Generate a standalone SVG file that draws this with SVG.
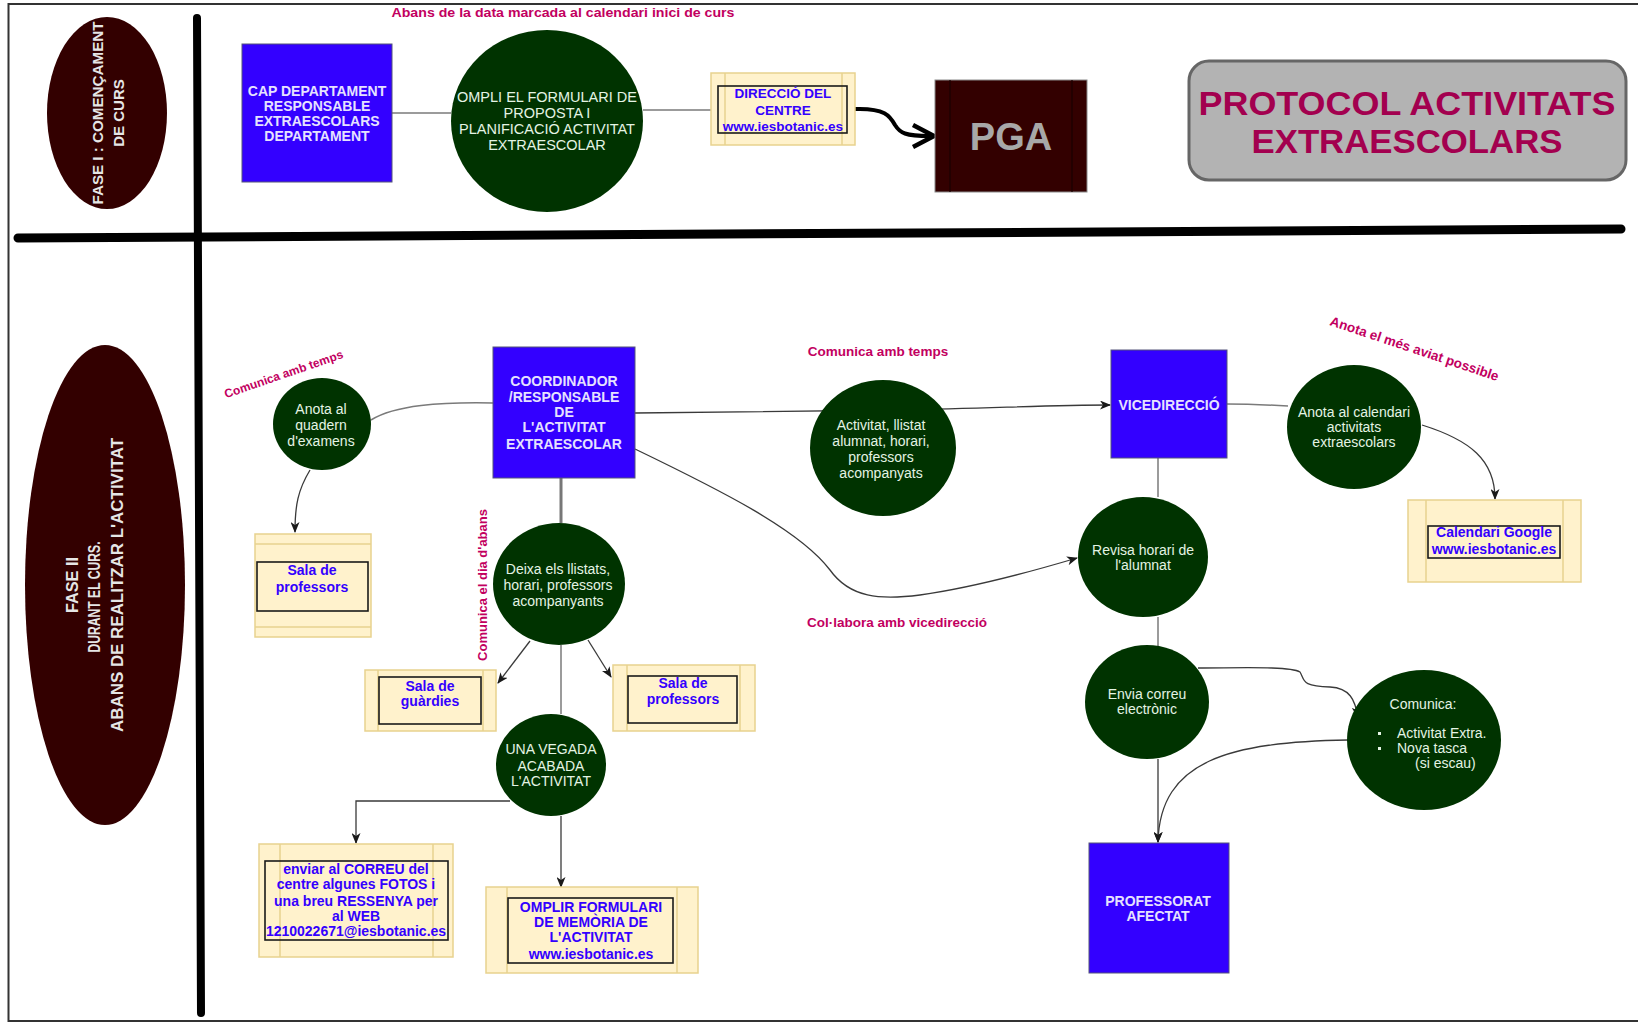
<svg xmlns="http://www.w3.org/2000/svg" width="1638" height="1023" viewBox="0 0 1638 1023">
<defs>
<style>
.t{font-family:"Liberation Sans",Arial,sans-serif}
.blue{fill:#3300ff;stroke:#55557a;stroke-width:1}
.green{fill:#003300}
.dark{fill:#330000}
.yel{fill:#fff2cc;stroke:#e8d28e;stroke-width:1.5}
.bar{stroke:#e8d28e;stroke-width:1.5;fill:none}
.inner{fill:none;stroke:#1a1a1a;stroke-width:1.6}
.conn{fill:none;stroke:#7a7a7a;stroke-width:1.5}
.arr{fill:none;stroke:#3a3a3a;stroke-width:1.3;marker-end:url(#ah)}
.tb{font-family:"Liberation Sans",Arial,sans-serif;font-weight:bold;font-size:14px;fill:#e6e2ff;text-anchor:middle}
.tg{font-family:"Liberation Sans",Arial,sans-serif;font-size:14px;fill:#e4f4e4;text-anchor:middle}
.ty{font-family:"Liberation Sans",Arial,sans-serif;font-weight:bold;font-size:14px;fill:#3300ff;text-anchor:middle}
.lbl{font-family:"Liberation Sans",Arial,sans-serif;font-weight:bold;font-size:13px;fill:#c2005f;text-anchor:middle}
.ph{font-family:"Liberation Sans",Arial,sans-serif;font-weight:bold;font-size:16px;fill:#e6e6e6;text-anchor:middle}
</style>
<marker id="ah" markerUnits="userSpaceOnUse" markerWidth="11" markerHeight="9" viewBox="0 0 11 9" refX="10" refY="4.5" orient="auto">
<path d="M0,0 L11,4.5 L0,9 L3,4.5 z" fill="#1a1a1a"/>
</marker>
</defs>
<rect width="1638" height="1023" fill="#ffffff"/>
<g id="frame">
<path d="M1638,4 H8.5 V1021 H1638" fill="none" stroke="#333" stroke-width="2"/>
<line x1="197" y1="18" x2="201" y2="1013" stroke="#000" stroke-width="8" stroke-linecap="round"/>
<line x1="18" y1="238" x2="1621" y2="229" stroke="#000" stroke-width="9" stroke-linecap="round"/>
</g>
<g id="connectors">
<path class="conn" d="M392,113 H451"/>
<path class="conn" d="M643,110 H711"/>
<path d="M855,109 C885,108 890,116 895,125 C900,133 905,136 930,136" fill="none" stroke="#000" stroke-width="4"/>
<path d="M913,125 L934,136 L913,147" fill="none" stroke="#000" stroke-width="4.5"/>
<path class="conn" d="M493,403 C440,402 395,405 371,420"/>
<path class="arr" d="M310,470 C298,490 295,505 295,532"/>
<path d="M561,478 V523" fill="none" stroke="#777" stroke-width="3"/>
<path class="arr" d="M530,641 L498,683"/>
<path class="arr" d="M588,640 L611,677"/>
<path class="conn" d="M561,645 V714"/>
<path class="arr" d="M510,801 H356 V843"/>
<path class="arr" d="M561,816 V887"/>
<path class="arr" d="M635,413 L900,410 C1000,408 1050,405 1110,405"/>
<path class="arr" d="M635,449 C720,490 800,530 830,570 C850,598 880,600 920,595 C970,588 1030,572 1077,558"/>
<path class="conn" d="M1158,458 V497"/>
<path class="conn" d="M1158,617 V646"/>
<path class="arr" d="M1158,759 V842"/>
<path class="arr" d="M1198,668 C1240,668 1290,666 1300,672 C1305,680 1300,686 1330,687 C1350,688 1355,700 1358,717"/>
<path class="arr" d="M1348,740 C1230,742 1160,760 1158,842"/>
<path class="conn" d="M1227,404 C1250,404 1270,405 1288,406"/>
<path class="arr" d="M1422,425 C1470,440 1495,460 1495,499"/>
</g>
<g id="fase1">
<ellipse class="dark" cx="107" cy="113" rx="60" ry="96"/>
<text class="ph" style="font-size:15px" transform="translate(103,113) rotate(-90)" textLength="183" lengthAdjust="spacingAndGlyphs">FASE I : COMENÇAMENT</text>
<text class="ph" style="font-size:15px" transform="translate(124,113) rotate(-90)">DE CURS</text>
</g>
<g id="label-abans">
<text class="lbl" x="563" y="17" textLength="343" lengthAdjust="spacingAndGlyphs">Abans de la data marcada al calendari inici de curs</text>
</g>
<g id="cap-departament">
<rect class="blue" x="242" y="44" width="150" height="138"/>
<text class="tb"><tspan x="317" y="96">CAP DEPARTAMENT</tspan><tspan x="317" y="111">RESPONSABLE</tspan><tspan x="317" y="126">EXTRAESCOLARS</tspan><tspan x="317" y="141">DEPARTAMENT</tspan></text>
</g>
<g id="ompli-formulari">
<ellipse class="green" cx="547" cy="121" rx="96" ry="91"/>
<text class="tg" style="font-size:14.5px"><tspan x="547" y="102">OMPLI EL FORMULARI DE</tspan><tspan x="547" y="118">PROPOSTA I</tspan><tspan x="547" y="134">PLANIFICACIÓ ACTIVITAT</tspan><tspan x="547" y="150">EXTRAESCOLAR</tspan></text>
</g>
<g id="direccio">
<rect class="yel" x="711" y="73" width="144" height="72"/>
<path class="bar" d="M725,73 V145 M842,73 V145"/>
<rect class="inner" x="718" y="86" width="129" height="47"/>
<text class="ty" style="font-size:13.5px"><tspan x="783" y="98">DIRECCIÓ DEL</tspan><tspan x="783" y="115">CENTRE</tspan><tspan x="783" y="131">www.iesbotanic.es</tspan></text>
</g>
<g id="pga">
<rect x="935" y="80" width="152" height="112" fill="#330000" stroke="#8a8a8a" stroke-width="1"/>
<path d="M950,80 V192 M1072,80 V192" stroke="#1a0000" stroke-width="1.2"/>
<text x="1011" y="150" text-anchor="middle" class="t" font-weight="bold" font-size="38" fill="#a8a8a8">PGA</text>
</g>
<g id="title">
<rect x="1189" y="61" width="437" height="119" rx="20" fill="#b3b3b3" stroke="#666" stroke-width="3"/>
<text class="t" x="1407" y="115" text-anchor="middle" font-weight="bold" font-size="34" fill="#a3004f" textLength="417" lengthAdjust="spacingAndGlyphs">PROTOCOL ACTIVITATS</text>
<text class="t" x="1407" y="153" text-anchor="middle" font-weight="bold" font-size="34" fill="#a3004f" textLength="311" lengthAdjust="spacingAndGlyphs">EXTRAESCOLARS</text>
</g>
<g id="fase2">
<ellipse class="dark" cx="105" cy="585" rx="80" ry="240"/>
<text class="ph" transform="translate(78,585) rotate(-90)" textLength="56" lengthAdjust="spacingAndGlyphs">FASE II</text>
<text class="ph" transform="translate(100,597) rotate(-90)" textLength="111" lengthAdjust="spacingAndGlyphs">DURANT EL CURS.</text>
<text class="ph" transform="translate(123,585) rotate(-90)" textLength="294" lengthAdjust="spacingAndGlyphs">ABANS DE REALITZAR L'ACTIVITAT</text>
</g>
<g id="anota-quadern">
<ellipse class="green" cx="322" cy="424" rx="49" ry="46"/>
<text class="tg"><tspan x="321" y="414">Anota al</tspan><tspan x="321" y="430">quadern</tspan><tspan x="321" y="446">d'examens</tspan></text>
</g>
<g id="label-comunica1">
<text class="lbl" style="font-size:12px" transform="translate(285,378) rotate(-19)">Comunica amb temps</text>
</g>
<g id="sala-professors-1">
<rect class="yel" x="255" y="534" width="116" height="103"/>
<path class="bar" d="M255,544 H371 M255,627 H371"/>
<rect class="inner" x="257" y="562" width="111" height="49"/>
<text class="ty"><tspan x="312" y="575">Sala de</tspan><tspan x="312" y="592">professors</tspan></text>
</g>
<g id="coordinador">
<rect class="blue" x="493" y="347" width="142" height="131"/>
<text class="tb"><tspan x="564" y="386">COORDINADOR</tspan><tspan x="564" y="402">/RESPONSABLE</tspan><tspan x="564" y="417">DE</tspan><tspan x="564" y="432">L'ACTIVITAT</tspan><tspan x="564" y="449">EXTRAESCOLAR</tspan></text>
</g>
<g id="deixa-llistats">
<ellipse class="green" cx="559" cy="584" rx="66" ry="61"/>
<text class="tg"><tspan x="558" y="574">Deixa els llistats,</tspan><tspan x="558" y="590">horari, professors</tspan><tspan x="558" y="606">acompanyants</tspan></text>
</g>
<g id="label-dia-abans">
<text class="lbl" transform="translate(487,585) rotate(-90)">Comunica el dia d'abans</text>
</g>
<g id="sala-guardies">
<rect class="yel" x="365" y="670" width="131" height="61"/>
<path class="bar" d="M378,670 V731 M483,670 V731"/>
<rect class="inner" x="379" y="677" width="102" height="47"/>
<text class="ty"><tspan x="430" y="691">Sala de</tspan><tspan x="430" y="706">guàrdies</tspan></text>
</g>
<g id="sala-professors-2">
<rect class="yel" x="613" y="665" width="142" height="66"/>
<path class="bar" d="M627,665 V731 M740,665 V731"/>
<rect class="inner" x="628" y="676" width="109" height="47"/>
<text class="ty"><tspan x="683" y="688">Sala de</tspan><tspan x="683" y="704">professors</tspan></text>
</g>
<g id="una-vegada">
<ellipse class="green" cx="551" cy="765" rx="55" ry="51"/>
<text class="tg"><tspan x="551" y="754">UNA VEGADA</tspan><tspan x="551" y="771">ACABADA</tspan><tspan x="551" y="786">L'ACTIVITAT</tspan></text>
</g>
<g id="enviar-correu">
<rect class="yel" x="259" y="844" width="194" height="113"/>
<path class="bar" d="M280,844 V957 M433,844 V957"/>
<rect class="inner" x="265" y="861" width="183" height="79"/>
<text class="ty"><tspan x="356" y="874">enviar al CORREU del</tspan><tspan x="356" y="889">centre algunes FOTOS i</tspan><tspan x="356" y="906">una breu RESSENYA per</tspan><tspan x="356" y="921">al WEB</tspan><tspan x="356" y="936">1210022671@iesbotanic.es</tspan></text>
</g>
<g id="omplir-memoria">
<rect class="yel" x="486" y="887" width="212" height="86"/>
<path class="bar" d="M507,887 V973 M677,887 V973"/>
<rect class="inner" x="508" y="898" width="165" height="65"/>
<text class="ty"><tspan x="591" y="912">OMPLIR FORMULARI</tspan><tspan x="591" y="927">DE MEMÒRIA DE</tspan><tspan x="591" y="942">L'ACTIVITAT</tspan><tspan x="591" y="959">www.iesbotanic.es</tspan></text>
</g>
<g id="label-comunica2">
<text class="lbl" x="878" y="356" style="font-size:13.5px">Comunica amb temps</text>
</g>
<g id="activitat-llistat">
<ellipse class="green" cx="883" cy="448" rx="73" ry="68"/>
<text class="tg"><tspan x="881" y="430">Activitat, llistat</tspan><tspan x="881" y="446">alumnat, horari,</tspan><tspan x="881" y="462">professors</tspan><tspan x="881" y="478">acompanyats</tspan></text>
</g>
<g id="label-collabora">
<text class="lbl" x="897" y="627" style="font-size:13.5px">Col·labora amb vicedirecció</text>
</g>
<g id="vicedireccio">
<rect class="blue" x="1111" y="350" width="116" height="108"/>
<text class="tb" x="1169" y="410">VICEDIRECCIÓ</text>
</g>
<g id="revisa-horari">
<ellipse class="green" cx="1143" cy="557" rx="65" ry="60"/>
<text class="tg"><tspan x="1143" y="555">Revisa horari de</tspan><tspan x="1143" y="570">l'alumnat</tspan></text>
</g>
<g id="envia-correu">
<ellipse class="green" cx="1147" cy="702" rx="62" ry="57"/>
<text class="tg"><tspan x="1147" y="699">Envia correu</tspan><tspan x="1147" y="714">electrònic</tspan></text>
</g>
<g id="professorat-afectat">
<rect class="blue" x="1089" y="843" width="140" height="130"/>
<text class="tb"><tspan x="1158" y="906">PROFESSORAT</tspan><tspan x="1158" y="921">AFECTAT</tspan></text>
</g>
<g id="comunica">
<ellipse class="green" cx="1424" cy="740" rx="77" ry="70"/>
<text class="tg" x="1423" y="709">Comunica:</text>
<rect x="1378" y="732" width="3" height="3" fill="#e4f4e4"/>
<rect x="1378" y="747" width="3" height="3" fill="#e4f4e4"/>
<text class="tg" style="text-anchor:start"><tspan x="1397" y="738">Activitat Extra.</tspan><tspan x="1397" y="753">Nova tasca</tspan><tspan x="1415" y="768">(si escau)</tspan></text>
</g>
<g id="anota-calendari">
<ellipse class="green" cx="1354" cy="427" rx="67" ry="62"/>
<text class="tg"><tspan x="1354" y="417">Anota al calendari</tspan><tspan x="1354" y="432">activitats</tspan><tspan x="1354" y="447">extraescolars</tspan></text>
</g>
<g id="label-anota">
<text class="lbl" style="font-size:13.5px" transform="translate(1413,353) rotate(18.5)">Anota el més aviat possible</text>
</g>
<g id="calendari-google">
<rect class="yel" x="1408" y="500" width="173" height="82"/>
<path class="bar" d="M1426,500 V582 M1563,500 V582"/>
<rect class="inner" x="1428" y="526" width="132" height="32"/>
<text class="ty"><tspan x="1494" y="537">Calendari Google</tspan><tspan x="1494" y="554">www.iesbotanic.es</tspan></text>
</g>
</svg>
